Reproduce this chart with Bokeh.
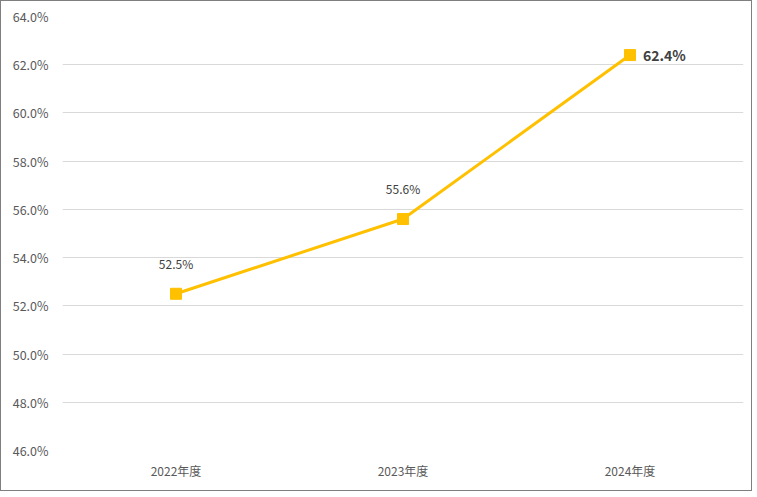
from bokeh.plotting import figure
from bokeh.models import ColumnDataSource, FixedTicker, PrintfTickFormatter, Range1d, FactorRange
from bokeh.core.properties import value
from bokeh.embed import file_html
from bokeh.resources import INLINE

categories = ["2022年度", "2023年度", "2024年度"]
rates = [52.5, 55.6, 62.4]
labels = ["52.5%", "55.6%", "62.4%"]
y_ticks = [46, 48, 50, 52, 54, 56, 58, 60, 62, 64]

FONT = "Noto Sans CJK JP"
GOLD = "#FFC000"

p = figure(width=752, height=491, x_range=FactorRange(*categories), y_range=Range1d(46, 64),
           output_backend="svg", toolbar_location=None,
           min_border_left=61, min_border_right=10, min_border_top=15, min_border_bottom=42)
p.styles = {"border": "1px solid #7f7f7f"}
p.outline_line_color = None
p.background_fill_color = "white"
p.border_fill_color = "white"

p.xgrid.grid_line_color = None
p.ygrid.grid_line_color = "#d9d9d9"
p.ygrid.grid_line_width = 1

p.yaxis.ticker = FixedTicker(ticks=y_ticks)
p.yaxis.formatter = PrintfTickFormatter(format="%.1f%%")
for ax in (p.xaxis[0], p.yaxis[0]):
    ax.axis_line_color = None
    ax.major_tick_line_color = None
    ax.minor_tick_line_color = None
    ax.major_label_text_font = FONT
    ax.major_label_text_font_size = "12px"
    ax.major_label_text_color = "#595959"
p.yaxis.major_label_text_font_size = "12.5px"
p.yaxis.major_label_standoff = 8
p.xaxis.major_label_standoff = 5

src = ColumnDataSource(dict(x=categories, y=rates, label=labels))
p.line("x", "y", source=src, line_color=GOLD, line_width=3)
p.scatter("x", "y", source=src, marker="square", size=11, fill_color=GOLD, line_color=GOLD)

small = ColumnDataSource(dict(x=categories[:2], y=rates[:2], label=labels[:2]))
p.text("x", "y", text="label", source=small, text_align="center", text_baseline="bottom",
       y_offset=-22, text_font=value(FONT), text_font_size="12px", text_color="#404040")
big = ColumnDataSource(dict(x=categories[2:], y=rates[2:], label=labels[2:]))
p.text("x", "y", text="label", source=big, text_align="left", text_baseline="middle",
       x_offset=13, text_font=value(FONT), text_font_size="14px", text_font_style="bold",
       text_color="#404040")

open("out.html", "w").write(file_html(p, INLINE))
